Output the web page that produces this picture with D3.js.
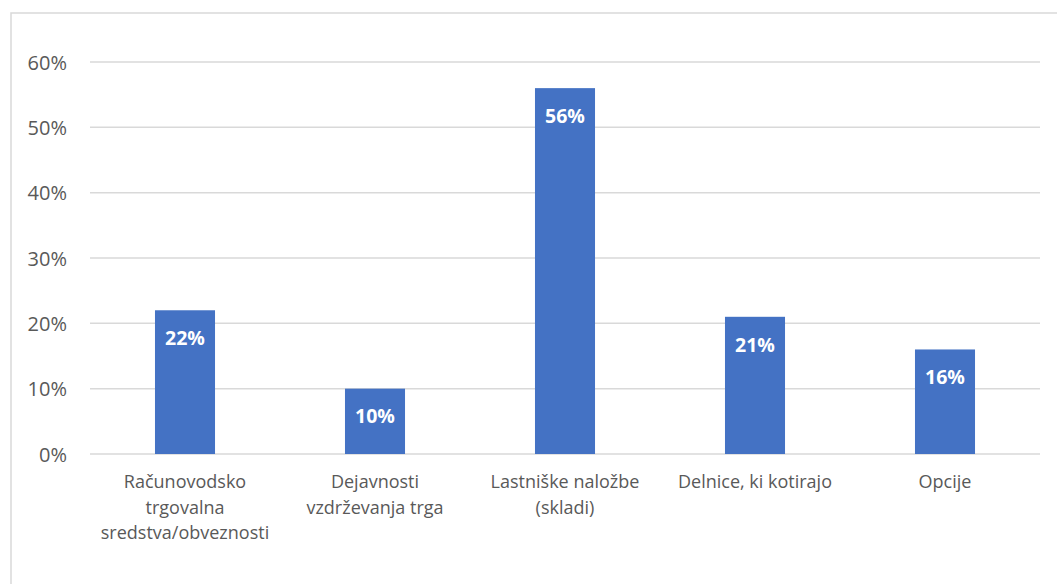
<!DOCTYPE html>
<html><head><meta charset="utf-8">
<script src="https://cdn.jsdelivr.net/npm/d3@7"></script>
<style>body{margin:0;background:#fff;} text{font-family:"Open Sans",sans-serif;}</style>
</head><body>
<svg id="c" width="1057" height="584"></svg>
<script>
const categories = [["Računovodsko","trgovalna","sredstva/obveznosti"],["Dejavnosti","vzdrževanja trga"],["Lastniške naložbe","(skladi)"],["Delnice, ki kotirajo"],["Opcije"]];
const values = [0.22, 0.10, 0.56, 0.21, 0.16];
const yTicks = [0, 0.1, 0.2, 0.3, 0.4, 0.5, 0.6];

const svg = d3.select("#c");
svg.append("rect").attr("x",11).attr("y",13).attr("width",1060).attr("height",600)
  .attr("fill","none").attr("stroke","#d9d9d9").attr("stroke-width",1.5);

const x = d3.scaleBand().domain(d3.range(values.length)).range([90,1040]).paddingInner(0.684).paddingOuter(0.342);
const y = d3.scaleLinear().domain([0,0.6]).range([454,62]);

const g = svg.append("g");
g.selectAll("line.grid").data(yTicks).join("line")
  .attr("x1",90).attr("x2",1040).attr("y1",d=>y(d)).attr("y2",d=>y(d))
  .attr("stroke","#d9d9d9").attr("stroke-width",1.5);

const yAxis = d3.axisLeft(y).tickValues(yTicks).tickFormat(d3.format(".0%")).tickSize(0).tickPadding(0);
const ya = svg.append("g").attr("transform","translate(67,0)").call(yAxis);
ya.select(".domain").remove();
ya.selectAll("text").attr("fill","#595959").style("font-size","20px").attr("dy","0.35em");

g.selectAll("rect.bar").data(values).join("rect")
  .attr("x",(d,i)=>x(i)).attr("width",x.bandwidth())
  .attr("y",d=>y(d)).attr("height",d=>y(0)-y(d)).attr("fill","#4472c4");

g.selectAll("text.val").data(values).join("text")
  .attr("x",(d,i)=>x(i)+x.bandwidth()/2).attr("y",d=>y(d)+28)
  .attr("text-anchor","middle").attr("dy","0.35em")
  .attr("fill","#fff").style("font-size","19.5px").style("font-weight","bold")
  .text(d=>d3.format(".0%")(d));

const xl = g.selectAll("text.cat").data(categories).join("text")
  .attr("text-anchor","middle").attr("fill","#595959").style("font-size","18px");
xl.each(function(lines,i){
  d3.select(this).selectAll("tspan").data(lines).join("tspan")
    .attr("x",x(i)+x.bandwidth()/2).attr("y",(l,j)=>482+j*25.5).attr("dy","0.35em").text(l=>l);
});
</script>
</body></html>
